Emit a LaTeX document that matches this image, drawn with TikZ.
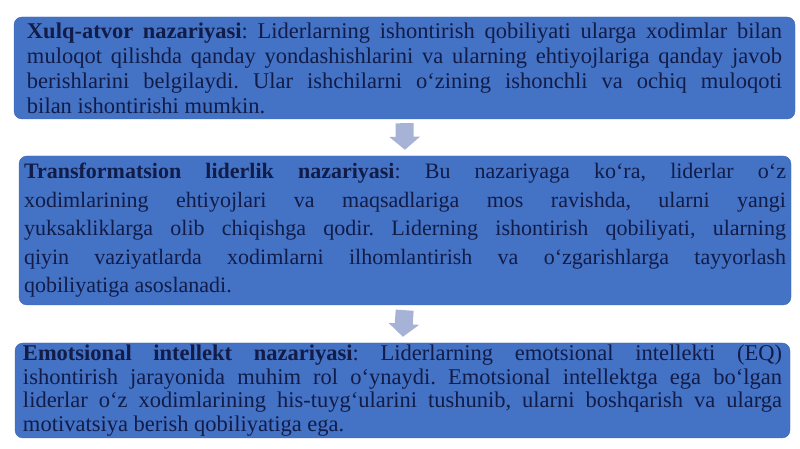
\documentclass[tikz,border=0pt]{standalone}
\usepackage{fontspec}
\setmainfont{Liberation Serif}
\usetikzlibrary{arrows.meta}
\frenchspacing

\definecolor{boxblue}{HTML}{4472C4}
\definecolor{boxedge}{HTML}{3D66B4}
\definecolor{arrowgrey}{HTML}{A7B3D6}
\definecolor{inktext}{HTML}{121C48}

\tikzset{
  theory/.style={draw=boxedge, fill=boxblue, rounded corners=8pt, align=justify,
    text=inktext, inner ysep=0pt, anchor=center},
  flowarrow/.style={arrowgrey, line width=18pt,
    -{Triangle[width=30pt,length=13pt]}}
}

\begin{document}
\begin{tikzpicture}[x=1pt,y=1pt]
    % fix the page
    \useasboundingbox (0,0) rectangle (800,449);

    % draw boxes
    \node[theory, text width=755pt, inner xsep=13pt, minimum height=102pt,
      font=\fontsize{22.5}{25}\selectfont] (xulq) at (404.5,381)
      {\textbf{Xulq-atvor nazariyasi}: Liderlarning ishontirish qobiliyati ularga xodimlar bilan\linebreak
       muloqot qilishda qanday yondashishlarini va ularning ehtiyojlariga qanday javob\linebreak
       berishlarini belgilaydi. Ular ishchilarni o‘zining ishonchli va ochiq muloqoti\linebreak
       bilan ishontirishi mumkin.};
    \node[theory, text width=762pt, inner xsep=5pt, minimum height=149pt,
      font=\fontsize{22}{28.5}\selectfont] (transf) at (405,218.5)
      {\textbf{Transformatsion liderlik nazariyasi}: Bu nazariyaga ko‘ra, liderlar o‘z\linebreak
       xodimlarining ehtiyojlari va maqsadlariga mos ravishda, ularni yangi\linebreak
       yuksakliklarga olib chiqishga qodir. Liderning ishontirish qobiliyati, ularning\linebreak
       qiyin vaziyatlarda xodimlarni ilhomlantirish va o‘zgarishlarga tayyorlash\linebreak
       qobiliyatiga asoslanadi.};
    \node[theory, text width=759pt, inner xsep=8pt, minimum height=95pt,
      font=\fontsize{22.5}{23.5}\selectfont] (emot) at (402.5,58.5)
      {\textbf{Emotsional intellekt nazariyasi}: Liderlarning emotsional intellekti (EQ)\linebreak
       ishontirish jarayonida muhim rol o‘ynaydi. Emotsional intellektga ega bo‘lgan\linebreak
       liderlar o‘z xodimlarining his-tuyg‘ularini tushunib, ularni boshqarish va ularga\linebreak
       motivatsiya berish qobiliyatiga ega.};

    % draw arrows
    \draw[flowarrow, shorten <=4pt, shorten >=6pt] (xulq.south) -- (transf.north);
    \draw[flowarrow, shorten <=5pt, shorten >=6pt] (transf.south) -- (emot.north);
  \end{tikzpicture}
\end{document}
